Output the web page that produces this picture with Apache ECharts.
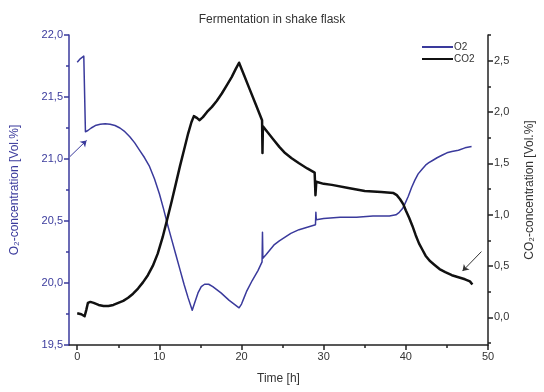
<!DOCTYPE html>
<html><head><meta charset="utf-8">
<script src="https://cdn.jsdelivr.net/npm/echarts@6/dist/echarts.min.js"></script>
<style>html,body{margin:0;padding:0;background:#fff}#c{width:544px;height:392px}</style>
</head><body><div id="c"></div>
<script>
// ---- data ----
const titleText = 'Fermentation in shake flask';
const seriesNames = ['O2', 'CO2'];
const xTicks = [0, 10, 20, 30, 40, 50];
const xMinorTicks = [5, 15, 25, 35, 45];
const o2Ticks = [19.5, 20.0, 20.5, 21.0, 21.5, 22.0];
const co2Ticks = [0, 0.5, 1.0, 1.5, 2.0, 2.5];
const co2MinorTicks = [-0.25, 0.25, 0.75, 1.25, 1.75, 2.25, 2.75];

const o2Time = [0,0.4,0.8,0.95,1.0,1.3,1.7,2.2,2.8,3.4,4.0,4.6,5.2,5.8,6.4,7.0,7.6,8.2,8.8,9.4,10,10.5,11,11.5,12,12.5,13,13.5,14,14.3,14.7,15.1,15.5,16.0,16.5,17.5,18.5,19.3,19.7,20.0,20.3,20.6,21.3,22,22.5,22.55,22.6,23.0,23.5,24,24.6,25.3,26,27,28,29,29.05,29.1,30,32,34,36,38,38.8,39.2,39.6,39.9,40.3,40.7,41.1,41.5,42,42.4,42.8,43.3,43.8,44.4,45.0,45.6,46.4,47.2,48];
const o2Value = [21.78,21.81,21.83,21.83,21.22,21.23,21.25,21.27,21.28,21.285,21.28,21.27,21.25,21.22,21.18,21.13,21.07,21.01,20.94,20.84,20.72,20.6,20.47,20.35,20.23,20.11,19.99,19.88,19.78,19.84,19.92,19.97,19.99,19.99,19.97,19.92,19.86,19.82,19.8,19.83,19.88,19.93,20.02,20.1,20.17,20.41,20.2,20.23,20.27,20.31,20.34,20.37,20.4,20.43,20.45,20.47,20.57,20.51,20.52,20.53,20.53,20.54,20.54,20.55,20.57,20.6,20.64,20.7,20.77,20.83,20.88,20.92,20.95,20.97,20.99,21.01,21.03,21.05,21.06,21.07,21.09,21.1];

const co2Time = [0,0.5,0.9,1.1,1.3,1.6,2,2.6,3.2,3.8,4.4,5.0,5.6,6.2,6.8,7.4,8,8.6,9.2,9.8,10.4,11,11.5,12,12.5,13,13.5,13.9,14.2,14.4,14.6,14.9,15.3,15.8,16.4,17.0,17.6,18.2,18.8,19.3,19.7,19.9,20.3,20.9,21.7,22.5,22.55,22.6,23.2,23.9,24.6,25.3,26.1,27,28,28.9,29,29.1,30,31,33,35,37,38.5,38.9,39.3,39.7,40,40.4,40.8,41.2,41.6,42.0,42.4,42.9,43.5,44.1,44.8,45.6,46.4,47.2,47.8,48.1];
const co2Value = [0.04,0.03,0.01,0.07,0.14,0.15,0.14,0.12,0.11,0.11,0.12,0.14,0.16,0.19,0.23,0.28,0.34,0.41,0.5,0.62,0.78,0.97,1.13,1.3,1.47,1.63,1.79,1.9,1.96,1.96,1.94,1.92,1.95,2.0,2.05,2.11,2.18,2.26,2.34,2.42,2.48,2.47,2.36,2.24,2.08,1.92,1.6,1.86,1.8,1.73,1.66,1.6,1.55,1.5,1.45,1.41,1.19,1.32,1.3,1.29,1.26,1.23,1.22,1.21,1.19,1.15,1.1,1.04,0.97,0.89,0.8,0.72,0.66,0.6,0.55,0.51,0.47,0.44,0.41,0.39,0.37,0.35,0.32];

const o2Arrow = [[-0.88, 21.02], [1.14, 21.15]];
const co2Arrow = [[49.2, 0.64], [46.9, 0.45]];

// ---- chart ----
const BLUE = '#3a3a9c';
const FONT = "'Liberation Sans', Arial, sans-serif";
const fmt = v => v.toFixed(1).replace('.', ',');
const zip = (a, b) => a.map((t, i) => [t, b[i]]);

const chart = echarts.init(document.getElementById('c'), null, {renderer: 'canvas'});
chart.setOption({
  animation: false,
  textStyle: {fontFamily: FONT},
  title: {text: titleText, left: 'center', top: 9,
    textStyle: {fontSize: 12, fontWeight: 'normal', color: '#333', fontFamily: FONT}},
  legend: {
    data: seriesNames, orient: 'vertical', left: 417, top: 37,
    icon: 'rect', itemWidth: 31, itemHeight: 2, itemGap: 2,
    textStyle: {fontSize: 10, color: '#333', padding: [0, 0, 0, -4], lineHeight: 9}
  },
  grid: {left: 69, right: 54, top: 35, bottom: 47},
  xAxis: [{
    type: 'value', min: -1, max: 50,
    name: 'Time [h]', nameLocation: 'middle', nameGap: 28,
    nameTextStyle: {fontSize: 12, color: '#333'},
    splitLine: {show: false},
    axisLine: {onZero: false, lineStyle: {color: '#222', width: 1.5}},
    axisTick: {customValues: xTicks, length: 5, lineStyle: {color: '#222', width: 1.5}},
    axisLabel: {customValues: xTicks, fontSize: 11, color: '#333', margin: 6}
  }, {
    type: 'value', min: -1, max: 50, position: 'bottom',
    splitLine: {show: false},
    axisLine: {show: false, onZero: false},
    axisTick: {customValues: xMinorTicks, length: 3, lineStyle: {color: '#222', width: 1.5}},
    axisLabel: {show: false}
  }],
  yAxis: [{
    type: 'value', min: 19.5, max: 22, interval: 0.5, position: 'left',
    name: 'O\u2082-concentration [Vol.%]', nameLocation: 'middle', nameGap: 48, nameRotate: 90,
    nameTextStyle: {fontSize: 12, color: BLUE},
    splitLine: {show: false},
    axisLine: {show: true, onZero: false, lineStyle: {color: BLUE, width: 1.5}},
    axisTick: {length: 5, lineStyle: {color: BLUE, width: 1.5}},
    minorTick: {show: true, splitNumber: 2, length: 3, lineStyle: {color: BLUE, width: 1.5}},
    axisLabel: {fontSize: 11, color: BLUE, formatter: fmt, margin: 6}
  }, {
    type: 'value', min: -0.27, max: 2.75, position: 'right',
    name: 'CO\u2082-concentration [Vol.%]', nameLocation: 'middle', nameGap: 36, nameRotate: 90,
    nameTextStyle: {fontSize: 12, color: '#333'},
    splitLine: {show: false},
    axisLine: {show: true, onZero: false, lineStyle: {color: '#222', width: 1.5}},
    axisTick: {customValues: co2Ticks, length: 5, lineStyle: {color: '#222', width: 1.5}},
    axisLabel: {customValues: co2Ticks, fontSize: 11, color: '#333', formatter: fmt, margin: 6}
  }, {
    type: 'value', min: -0.27, max: 2.75, position: 'right',
    splitLine: {show: false},
    axisLine: {show: false, onZero: false},
    axisTick: {customValues: co2MinorTicks, length: 3, lineStyle: {color: '#222', width: 1.5}},
    axisLabel: {show: false}
  }],
  series: [{
    name: seriesNames[0], type: 'line', xAxisIndex: 0, yAxisIndex: 0,
    data: zip(o2Time, o2Value), showSymbol: false,
    lineStyle: {color: BLUE, width: 1.5, join: 'round'}, itemStyle: {color: BLUE},
    markLine: {silent: true, symbol: ['none', 'arrow'], symbolSize: 6,
      lineStyle: {color: BLUE, width: 1, type: 'solid'}, label: {show: false},
      data: [[{coord: o2Arrow[0]}, {coord: o2Arrow[1]}]]}
  }, {
    name: seriesNames[1], type: 'line', xAxisIndex: 0, yAxisIndex: 1,
    data: zip(co2Time, co2Value), showSymbol: false,
    lineStyle: {color: '#111', width: 2.5, join: 'round'}, itemStyle: {color: '#111'},
    markLine: {silent: true, symbol: ['none', 'arrow'], symbolSize: 6,
      lineStyle: {color: '#333', width: 1, type: 'solid'}, label: {show: false},
      data: [[{coord: co2Arrow[0]}, {coord: co2Arrow[1]}]]}
  }]
});
</script></body></html>
